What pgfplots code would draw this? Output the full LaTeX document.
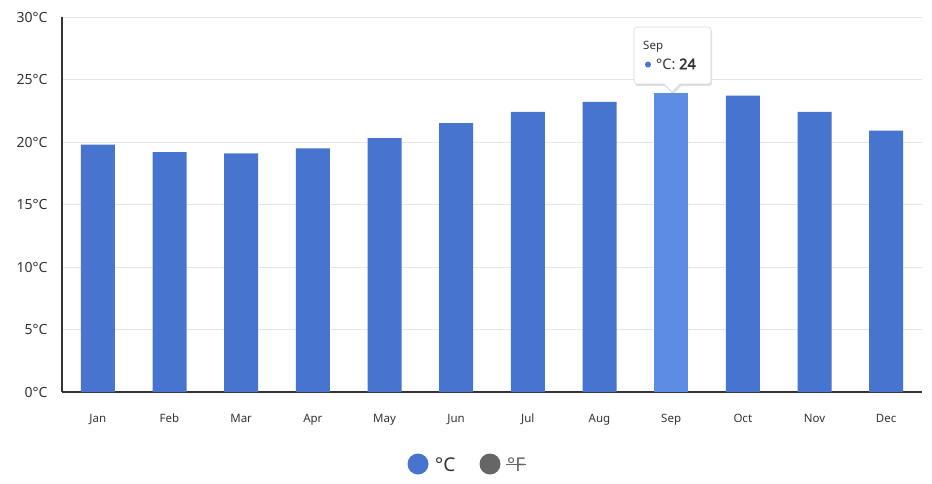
\documentclass[border=0pt]{standalone}
\usepackage{fontspec}
\setmainfont{Noto Sans}
\newfontfamily\fbold{Noto Sans}[FakeBold=2.5]
\usepackage{pgfplots}
\pgfplotsset{compat=1.18}
\usetikzlibrary{shadows}
\definecolor{barblue}{HTML}{4674CE}
\definecolor{barhi}{HTML}{5B8DE4}
\definecolor{gridc}{HTML}{E6E6E6}
\definecolor{axc}{HTML}{333333}
\definecolor{txt}{HTML}{333333}
\definecolor{greyc}{HTML}{666666}
\begin{document}
\begin{tikzpicture}[x=1pt,y=1pt]
\useasboundingbox[fill=white] (0,0) rectangle (932,483);
\begin{axis}[
  at={(62pt,91pt)}, anchor=south west,
  scale only axis, width=860pt, height=375pt,
  xmin=-0.5, xmax=11.5, ymin=0, ymax=30,
  xtick={0,...,11},
  xticklabels={Jan,Feb,Mar,Apr,May,Jun,Jul,Aug,Sep,Oct,Nov,Dec},
  ytick={0,5,10,15,20,25,30},
  yticklabels={0°C,5°C,10°C,15°C,20°C,25°C,30°C},
  ymajorgrids, grid style={gridc, line width=0.8pt},
  axis x line*=bottom, axis y line*=left,
  axis line style={axc, line width=1.8pt, -},
  major tick length=0pt,
  tick label style={txt},
  yticklabel style={font=\fontsize{14}{16}\selectfont, xshift=-11pt},
  xticklabel style={font=\fontsize{11.5}{13}\selectfont, text height=8.5pt, text depth=2.5pt, yshift=-18pt},
  ybar, bar width=34pt, bar shift=0pt,
  clip=false,
]
\addplot[fill=barblue, draw=none] coordinates {
 (0,19.8) (1,19.2) (2,19.1) (3,19.5) (4,20.3) (5,21.5)
 (6,22.4) (7,23.2) (9,23.7) (10,22.4) (11,20.9)};
\addplot[fill=barhi, draw=none] coordinates {(8,23.9)};
\end{axis}
% tooltip
\path[fill=white, draw=black!15, line width=0.6pt, drop shadow={opacity=0.25, shadow xshift=1pt, shadow yshift=-2pt}]
  (637,456) -- (708,456) to[out=0,in=90] (711,453) -- (711,402) to[out=-90,in=0] (708,399)
  -- (680,399) -- (672,391) -- (664,399) -- (637,399) to[out=180,in=-90] (634,402)
  -- (634,453) to[out=90,in=180] cycle;
\node[anchor=west, txt, font=\fontsize{11.5}{13}\selectfont, inner sep=0pt] at (643,436) {Sep};
\fill[barblue] (648,418.5) circle (3pt);
\node[anchor=west, txt, font=\fontsize{14.5}{16}\selectfont, inner sep=0pt] at (656,419) {°C: {\fbold 24}};
% legend
\fill[barblue] (418,19) circle (10.5pt);
\node[anchor=west, txt, font=\fontsize{19}{21}\selectfont, inner sep=0pt] at (435,18) {°C};
\fill[greyc] (490,19) circle (10.5pt);
\node[anchor=west, greyc, font=\fontsize{19}{21}\selectfont, inner sep=0pt] (f) at (507,18) {°F};
\draw[greyc, line width=1.2pt] (506,18.5) -- (526,18.5);
\end{tikzpicture}
\end{document}
